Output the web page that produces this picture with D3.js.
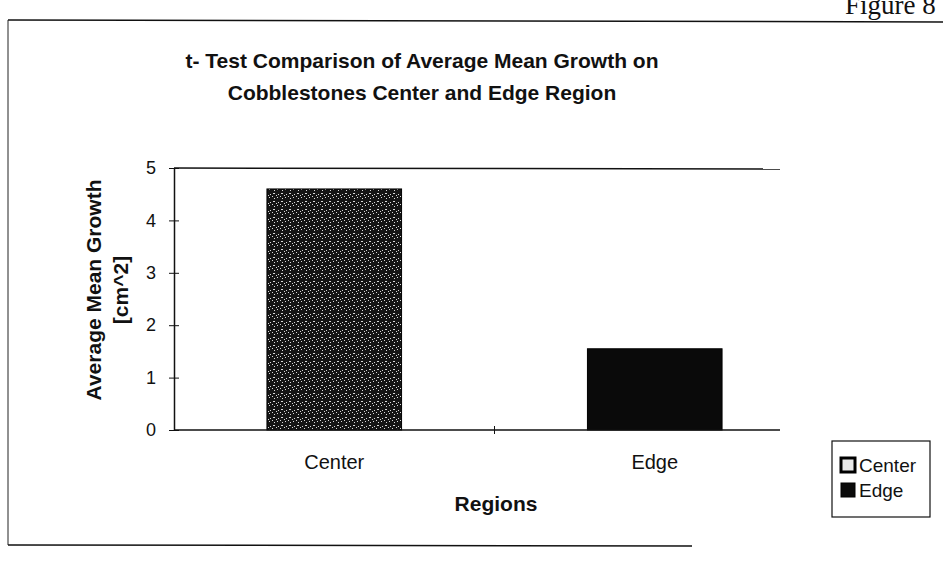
<!DOCTYPE html>
<html>
<head>
<meta charset="utf-8">
<script src="https://cdn.jsdelivr.net/npm/d3@7"></script>
<style>
  body { margin: 0; background: #fff; }
  svg { display: block; }
</style>
</head>
<body>
<div id="chart"></div>
<script>
// Chart data
const regions = ['Center', 'Edge'];
const growth = [4.6, 1.55];
const yTicks = [0, 1, 2, 3, 4, 5];
const titleLines = ['t- Test Comparison of Average Mean Growth on', 'Cobblestones Center and Edge Region'];
const yLabelLines = ['Average Mean Growth', '[cm^2]'];

const W = 943, H = 564;
const plot = {left: 174, right: 815, top: 168, bottom: 430};
const font = '"Liberation Sans", Arial, sans-serif';

const svg = d3.select('#chart')
  .append('svg')
    .attr('width', W)
    .attr('height', H);

// Speckled fill for the Center bar
const defs = svg.append('defs');
const pat = defs.append('pattern')
  .attr('id', 'speckle')
  .attr('width', 8)
  .attr('height', 8)
  .attr('patternUnits', 'userSpaceOnUse');
pat.append('rect').attr('width', 8).attr('height', 8).attr('fill', '#151515');
[[1, 1, 2, 1], [5, 5, 1, 1], [6, 2, 1, 1], [2, 6, 1, 1], [4, 3, 1, 1], [0, 4, 1, 1]].forEach(p => {
  pat.append('rect')
    .attr('x', p[0]).attr('y', p[1])
    .attr('width', p[2]).attr('height', p[3])
    .attr('fill', '#d8d8d8');
});

// Outer frame (page border of the scan)
svg.append('line').attr('x1', 8).attr('y1', 20).attr('x2', W).attr('y2', 22)
  .attr('stroke', '#111').attr('stroke-width', 1.5);
svg.append('line').attr('x1', 8).attr('y1', 20).attr('x2', 8).attr('y2', 545)
  .attr('stroke', '#222').attr('stroke-width', 1);
svg.append('line').attr('x1', 8).attr('y1', 545).attr('x2', 692).attr('y2', 546)
  .attr('stroke', '#111').attr('stroke-width', 1.5);

// Figure caption (cut off by the page edge, as in the scan)
svg.append('text')
  .attr('x', 845)
  .attr('y', 14)
  .style('font-family', '"Liberation Serif", serif')
  .style('font-size', '27px')
  .style('fill', '#111')
  .text('Figure 8');

// Title
svg.append('g').selectAll('text')
  .data(titleLines)
  .join('text')
    .attr('x', 422)
    .attr('y', (d, i) => 68 + i * 32)
    .attr('text-anchor', 'middle')
    .style('font-family', font)
    .style('font-weight', 'bold')
    .style('font-size', '21px')
    .style('fill', '#111')
    .text(d => d);

// Scales
const x = d3.scaleBand()
  .domain(regions)
  .range([plot.left, plot.right])
  .paddingInner(0.58)
  .paddingOuter(0.29);

const y = d3.scaleLinear()
  .domain([0, 5])
  .range([plot.bottom, plot.top]);

// Top border of plot area
svg.append('line')
  .attr('x1', plot.left).attr('y1', plot.top)
  .attr('x2', 780).attr('y2', plot.top + 1)
  .attr('stroke', '#111').attr('stroke-width', 1.5);

// Bars
svg.append('g').selectAll('rect')
  .data(regions)
  .join('rect')
    .attr('x', d => x(d))
    .attr('y', (d, i) => y(growth[i]))
    .attr('width', x.bandwidth())
    .attr('height', (d, i) => y(0) - y(growth[i]))
    .attr('fill', (d, i) => i === 0 ? 'url(#speckle)' : '#0a0a0a')
    .attr('stroke', '#000')
    .attr('stroke-width', 1);

// Y axis
const yAxis = svg.append('g')
  .attr('transform', `translate(${plot.left},0)`)
  .call(d3.axisLeft(y).tickValues(yTicks).tickSize(6).tickSizeOuter(0).tickFormat(d3.format('d')));
yAxis.select('.domain').attr('stroke', '#111').attr('stroke-width', 1.5);
yAxis.selectAll('.tick line').attr('stroke', '#111').attr('x2', 5).attr('x1', -5);
yAxis.selectAll('.tick text')
  .attr('x', -18)
  .style('font-family', font)
  .style('font-size', '18px')
  .style('fill', '#111');

// X axis
const xAxis = svg.append('g')
  .attr('transform', `translate(0,${plot.bottom})`)
  .call(d3.axisBottom(x).tickSize(0).tickSizeOuter(0));
xAxis.select('.domain').attr('d', `M${plot.left},0H780`).attr('stroke', '#111').attr('stroke-width', 1.5);
xAxis.selectAll('.tick text')
  .attr('y', 25)
  .style('font-family', font)
  .style('font-size', '20px')
  .style('fill', '#111');
// divider tick between categories
svg.append('line')
  .attr('x1', x.step() + plot.left).attr('x2', x.step() + plot.left)
  .attr('y1', plot.bottom - 4).attr('y2', plot.bottom + 4)
  .attr('stroke', '#111');

// Axis titles
svg.append('text')
  .attr('x', 496)
  .attr('y', 511)
  .attr('text-anchor', 'middle')
  .style('font-family', font)
  .style('font-weight', 'bold')
  .style('font-size', '21px')
  .style('fill', '#111')
  .text('Regions');

svg.append('g').selectAll('text')
  .data(yLabelLines)
  .join('text')
    .attr('transform', (d, i) => `translate(${101 + i * 27},${290}) rotate(-90)`)
    .attr('text-anchor', 'middle')
    .style('font-family', font)
    .style('font-weight', 'bold')
    .style('font-size', '21px')
    .style('fill', '#111')
    .text(d => d);

// Legend
const legend = svg.append('g').attr('transform', 'translate(832,441)');
legend.append('rect')
  .attr('width', 98).attr('height', 76)
  .attr('fill', '#fff').attr('stroke', '#111').attr('stroke-width', 1.2);
const items = legend.selectAll('g.item')
  .data(regions)
  .join('g')
    .attr('class', 'item')
    .attr('transform', (d, i) => `translate(0,${24 + i * 25})`);
items.append('rect')
  .attr('x', 9).attr('y', -7)
  .attr('width', 14).attr('height', 14)
  .attr('fill', (d, i) => i === 0 ? '#e8e8e8' : '#0a0a0a')
  .attr('stroke', '#000')
  .attr('stroke-width', (d, i) => i === 0 ? 3 : 1);
items.append('text')
  .attr('x', 27)
  .attr('dy', '0.35em')
  .style('font-family', font)
  .style('font-size', '19px')
  .style('fill', '#111')
  .text(d => d);
</script>
</body>
</html>
